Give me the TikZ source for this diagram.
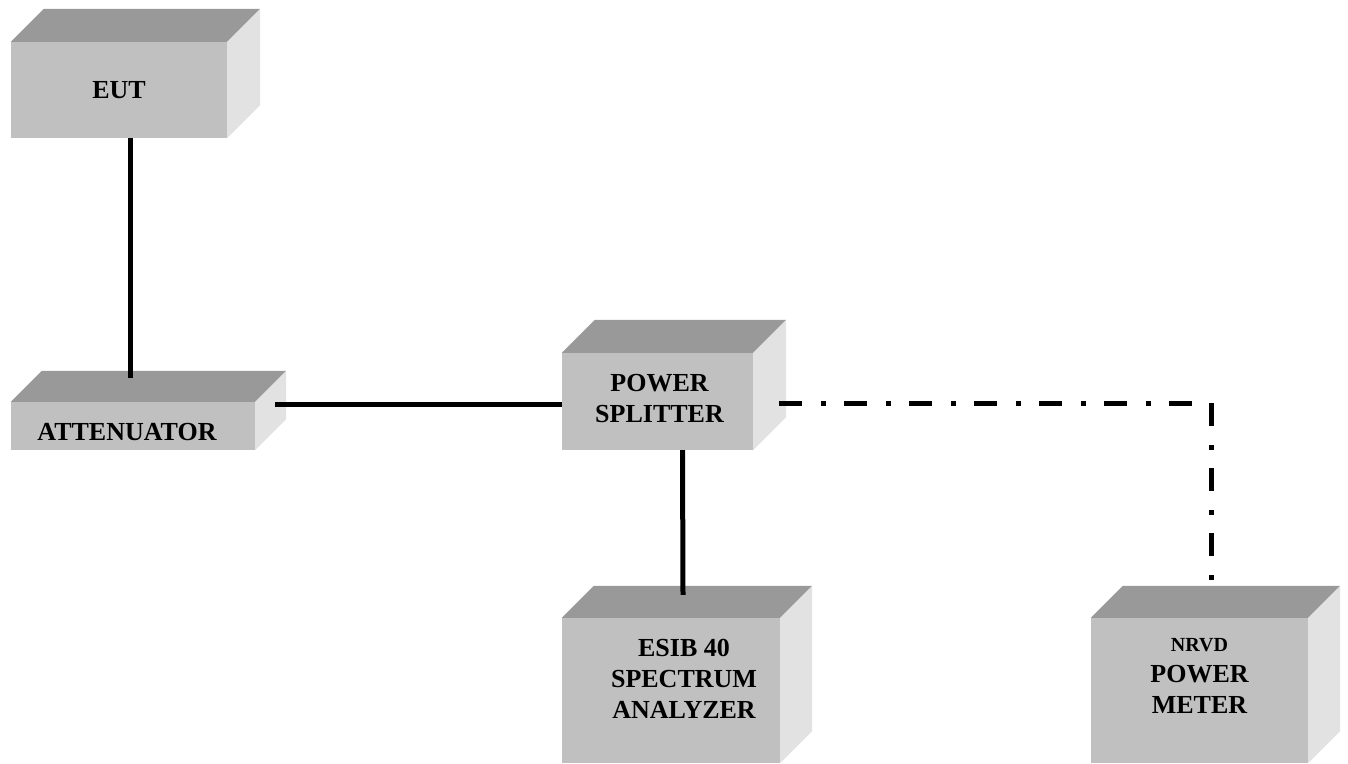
\documentclass[tikz,border=0pt]{standalone}
\usepackage{fontspec}
\setmainfont{Liberation Serif}
\usepackage{xcolor}
\usetikzlibrary{calc}

\definecolor{frontgray}{RGB}{192,192,192}
\definecolor{topgray}{RGB}{153,153,153}
\definecolor{sidegray}{RGB}{226,226,226}

\tikzset{
  device/.style={fill=frontgray, inner sep=0pt, align=center,
    font=\fontsize{26}{31}\selectfont\bfseries},
  caption/.style={inner sep=0pt, align=center,
    font=\fontsize{26}{31}\selectfont\bfseries},
  link/.style={line width=5pt},
  dashdot/.style={line width=5pt, dash pattern=on 23pt off 19pt on 5pt off 18pt},
}

\begin{document}
\begin{tikzpicture}[x=1pt, y=-1pt]
  \useasboundingbox (0,0) rectangle (1348,763);

  % front faces of the instruments
  \node[device, minimum width=216pt, minimum height=96pt] (eut) at (119,90) {EUT};
  \node[device, minimum width=244pt, minimum height=48pt,
    label={[caption, xshift=-6pt, yshift=-6pt]center:ATTENUATOR}] (att) at (133,426) {};
  \node[device, minimum width=191pt, minimum height=97pt,
    label={[caption, xshift=2pt, yshift=3pt]center:{POWER\\SPLITTER}}] (splitter) at (657.5,401.5) {};
  \node[device, minimum width=218pt, minimum height=145pt,
    label={[caption, xshift=13pt, yshift=12pt]center:{ESIB 40\\SPECTRUM\\ANALYZER}}] (sa) at (671,690.5) {};
  \node[device, minimum width=217pt, minimum height=145pt,
    label={[caption, yshift=15pt]center:{{\fontsize{20}{24}\selectfont NRVD}\\POWER\\METER}}] (meter) at (1199.5,690.5) {};

  % top and side faces
  \foreach \n/\d in {eut/33, att/31, splitter/33, sa/32, meter/32}{
    \fill[topgray] (\n.north west) -- ++(\d*1pt,\d*1pt)
      -- ([shift={(\d*1pt,\d*1pt)}]\n.north east) -- (\n.north east) -- cycle;
    \fill[sidegray] (\n.north east) -- ++(\d*1pt,\d*1pt)
      -- ([shift={(\d*1pt,\d*1pt)}]\n.south east) -- (\n.south east) -- cycle;
  }

  % cable ends
  \coordinate (attout) at ([xshift=20pt]att.east);
  \coordinate (splitin) at ([yshift=-3pt]splitter.west);
  \coordinate (splitout) at ([xshift=26pt,yshift=-1.5pt]splitter.east);
  \coordinate (meterin) at ([xshift=11.5pt,yshift=33pt]meter.north);

  % solid cables
  \draw[link] ([xshift=11pt]eut.south) -- ([xshift=-3pt,yshift=24pt]att.north);
  \draw[link] (attout |- splitin) -- (splitin);
  \draw[link] ([xshift=25pt]splitter.south) -- ([xshift=12pt,yshift=23pt]sa.north);

  % dash-dot cable to the power meter
  \draw[dashdot] (splitout) -- (splitout -| meterin);
  \draw[dashdot] (splitout -| meterin) -- (meterin);
\end{tikzpicture}
\end{document}
